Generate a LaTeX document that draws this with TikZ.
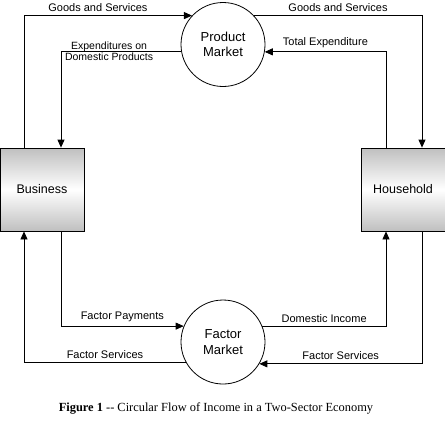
\documentclass[tikz,border=0pt]{standalone}
\usepackage{fontspec}
\setmainfont{Liberation Sans}
\newfontfamily\capfont{Liberation Serif}
\usetikzlibrary{arrows.meta}
\usetikzlibrary{positioning}

\tikzset{
  market/.style={draw, circle, minimum size=84bp, inner sep=0pt, line width=0.8bp,
    align=center, font=\fontsize{13bp}{15.5bp}\selectfont},
  sector/.style={draw, rectangle, minimum width=84bp, minimum height=83bp, line width=0.8bp,
    top color=black!25, bottom color=black!25, middle color=white,
    font=\fontsize{12.5bp}{15bp}\selectfont},
  flow/.style={line width=0.8bp, -{Triangle[length=8bp,width=7bp]}},
  lbl/.style={font=\fontsize{11bp}{12bp}\selectfont, inner sep=1bp},
}

\begin{document}
\begin{tikzpicture}[x=1bp, y=-1bp]
\useasboundingbox (0,0) rectangle (445,423);
% the four boxes
\node[market] (pm) at (223,44.5) {Product\\Market};
\node[market] (fm) at (223,342) {Factor\\Market};
\node[sector] (bus) at (42,189.5) {Business};
\node[sector] (hh) at (403,189.5) {Household};
% columns for the flows
\coordinate (lo) at (24,0);
\coordinate (li) at (61,0);
\coordinate (ri) at (386,0);
\coordinate (ro) at (422,0);
% product side
\draw[flow] (bus.north -| lo) |- (pm.137) node[lbl, above=2.5bp, pos=0.72] {Goods and Services};
\draw[flow] (pm.43) -| (hh.north -| ro) node[lbl, above=2.5bp, pos=0.25] {Goods and Services};
\draw[flow] (pm.190) -| (bus.north -| li) node[lbl, align=center, pos=0.3, yshift=0.5bp, font=\fontsize{10.5bp}{11.5bp}\selectfont] {Expenditures on\\Domestic Products};
\draw[flow] (hh.north -| ri) |- (pm.-10) node[lbl, above=2.5bp, pos=0.75] {Total Expenditure};
% factor side
\draw[flow] (bus.south -| li) |- (fm.158) node[lbl, above=2.5bp, pos=0.75] {Factor Payments};
\draw[flow] (fm.209) -| (bus.south -| lo) node[lbl, above=2.5bp, pos=0.25] {Factor Services};
\draw[flow] (fm.22) -| (hh.south -| ri) node[lbl, above=2.5bp, pos=0.25] {Domestic Income};
\draw[flow] (hh.south -| ro) |- (fm.-31) node[lbl, above=2.5bp, pos=0.75] {Factor Services};
% caption
\node[font=\capfont\fontsize{12.4bp}{14bp}\selectfont] (cap) at (216,408)
  {\textbf{Figure 1} -- Circular Flow of Income in a Two-Sector Economy};
\end{tikzpicture}
\end{document}
